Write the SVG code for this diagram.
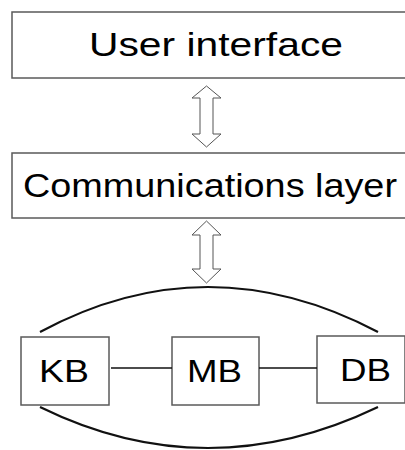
<svg xmlns="http://www.w3.org/2000/svg" width="405" height="450" viewBox="0 0 405 450">
  <style>
    .box { fill: #ffffff; stroke: #5a5a5a; stroke-width: 1.5; }
    .label { font-family: "Liberation Sans", Arial, sans-serif; fill: #000000; }
    .big { font-size: 33px; }
    .small { font-size: 32px; }
    .dbl { fill: #ffffff; stroke: #555555; stroke-width: 1; stroke-linejoin: miter; }
    .link { fill: none; stroke: #111111; stroke-width: 1.6; }
    .arc { fill: none; stroke: #111111; stroke-width: 2.2; }
  </style>
  <rect width="405" height="450" fill="#ffffff"/>

  <g id="user-interface">
    <rect class="box" x="12" y="12" width="400" height="66"/>
    <text class="label big" x="89" y="56" textLength="254" lengthAdjust="spacingAndGlyphs">User interface</text>
  </g>

  <g id="communications-layer">
    <rect class="box" x="12" y="153" width="400" height="65"/>
    <text class="label big" x="23" y="197" textLength="374" lengthAdjust="spacingAndGlyphs">Communications layer</text>
  </g>

  <g id="kb">
    <rect class="box" x="21" y="337" width="88" height="68"/>
    <text class="label small" x="39" y="382" textLength="50" lengthAdjust="spacingAndGlyphs">KB</text>
  </g>

  <g id="mb">
    <rect class="box" x="172" y="337" width="87" height="68"/>
    <text class="label small" x="187" y="382" textLength="55" lengthAdjust="spacingAndGlyphs">MB</text>
  </g>

  <g id="db">
    <rect class="box" x="317" y="336" width="88" height="67"/>
    <text class="label small" x="340" y="381" textLength="51" lengthAdjust="spacingAndGlyphs">DB</text>
  </g>

  <g id="connectors">
    <!-- double-headed block arrows between the layers -->
    <path class="dbl" d="M206.5 86 L221 98 L213 98 L213 134 L221 134 L206.5 147 L192 134 L200 134 L200 98 L192 98 Z"/>
    <path class="dbl" d="M206.5 221 L221 235 L213 235 L213 269 L221 269 L206.5 283 L192 269 L200 269 L200 235 L192 235 Z"/>
    <!-- links between the three bases -->
    <line class="link" x1="111" y1="368" x2="172" y2="368"/>
    <line class="link" x1="259" y1="368" x2="317" y2="368"/>
    <!-- arcs joining KB and DB -->
    <path class="arc" d="M40 332 Q207 242 378 332"/>
    <path class="arc" d="M40 407 Q207 489 378 407"/>
  </g>
</svg>
